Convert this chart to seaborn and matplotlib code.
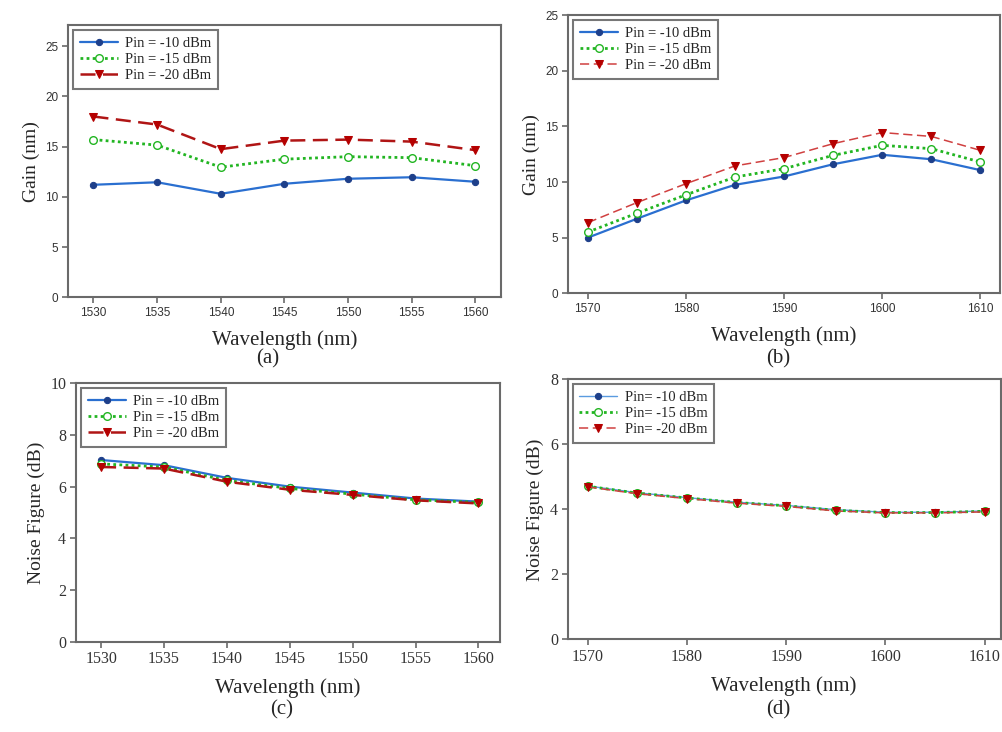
"""
Gain and noise figure vs. wavelength, four panels (a)-(d).
"""

import numpy as np
import pandas as pd
import matplotlib
matplotlib.use("Agg")
import matplotlib.pyplot as plt
import seaborn as sns

# ── Data ──────────────────────────────────────────────────────────────────
wl_c = [1530, 1535, 1540, 1545, 1550, 1555, 1560]
wl_l = [1570, 1575, 1580, 1585, 1590, 1595, 1600, 1605, 1610]

gain_c_10 = [11.2, 11.45, 10.3, 11.3, 11.8, 11.95, 11.5]
gain_c_15 = [15.7, 15.15, 12.95, 13.75, 14.0, 13.9, 13.1]
gain_c_20 = [18.0, 17.2, 14.75, 15.6, 15.7, 15.5, 14.65]

gain_l_10 = [5.0, 6.7, 8.35, 9.75, 10.5, 11.6, 12.45, 12.05, 11.07]
gain_l_15 = [5.5, 7.2, 8.85, 10.45, 11.2, 12.4, 13.3, 13.0, 11.8]
gain_l_20 = [6.35, 8.15, 9.85, 11.45, 12.2, 13.45, 14.45, 14.1, 12.85]

nf_c_10 = [7.03, 6.83, 6.34, 6.0, 5.77, 5.54, 5.42]
nf_c_15 = [6.88, 6.76, 6.24, 5.93, 5.71, 5.49, 5.39]
nf_c_20 = [6.76, 6.70, 6.19, 5.88, 5.68, 5.47, 5.35]

nf_l_10 = [4.72, 4.51, 4.36, 4.22, 4.12, 3.99, 3.91, 3.91, 3.95]
nf_l_15 = [4.71, 4.50, 4.35, 4.21, 4.11, 3.97, 3.90, 3.90, 3.94]
nf_l_20 = [4.69, 4.48, 4.33, 4.19, 4.09, 3.95, 3.89, 3.89, 3.92]

labels_ab = ["Pin = -10 dBm", "Pin = -15 dBm", "Pin = -20 dBm"]
labels_c = ["Pin = -10 dBm", "Pin = -15 dBm", "Pin = -20 dBm"]
labels_d = ["Pin= -10 dBm", "Pin= -15 dBm", "Pin= -20 dBm"]

# ── Style ─────────────────────────────────────────────────────────────────
sns.set_style("ticks")
plt.rcParams["font.family"] = ["Liberation Serif", "DejaVu Serif"]

SPINE = "#6a6a6a"
BLUE, BLUE_MK = "#2a6fd0", "#1d3f8a"
GREEN = "#22b522"
RED, RED_MK = "#b01515", "#b50000"

fig = plt.figure(figsize=(10.02, 7.32), dpi=100)
ax_a = fig.add_axes([0.0679, 0.594, 0.432, 0.3716])
ax_b = fig.add_axes([0.567, 0.5993, 0.431, 0.380])
ax_c = fig.add_axes([0.0758, 0.1234, 0.423, 0.353])
ax_d = fig.add_axes([0.5666, 0.1266, 0.432, 0.3552])


def draw(ax, wl, series, labels, light_red=False, light_blue=False):
    s10, s15, s20 = series
    df = pd.DataFrame({"wl": wl, "s10": s10, "s15": s15, "s20": s20})
    sns.lineplot(data=df, x="wl", y="s10", ax=ax, label=labels[0],
                 color="#5a9be0" if light_blue else BLUE,
                 lw=1.0 if light_blue else 1.6,
                 marker="o", ms=4.5, mfc=BLUE_MK, markeredgecolor=BLUE_MK)
    sns.lineplot(data=df, x="wl", y="s15", ax=ax, label=labels[1],
                 color=GREEN, lw=2.0, linestyle=(0, (1, 1.2)),
                 marker="o", ms=5.5, mfc="white", markeredgecolor=GREEN,
                 markeredgewidth=1.0)
    sns.lineplot(data=df, x="wl", y="s20", ax=ax, label=labels[2],
                 color="#d04040" if light_red else RED,
                 lw=1.1 if light_red else 1.8, linestyle=(0, (6, 3)),
                 marker="v", ms=5.5, mfc=RED_MK, markeredgecolor=RED_MK)


def style(ax, xlim, ylim, xticks, yticks, tick_font, tick_size, ylabel):
    ax.set_xlim(*xlim)
    ax.set_ylim(*ylim)
    ax.set_xticks(xticks)
    ax.set_yticks(yticks)
    for sp in ax.spines.values():
        sp.set_visible(True)
        sp.set_color(SPINE)
        sp.set_linewidth(1.5)
    ax.tick_params(direction="out", length=4, width=1.2, color=SPINE,
                   labelsize=tick_size, pad=3)
    for t in ax.get_xticklabels() + ax.get_yticklabels():
        t.set_fontfamily(tick_font)
        t.set_color("#333333")
    ax.set_xlabel("Wavelength (nm)", fontsize=15, labelpad=8)
    ax.set_ylabel(ylabel, fontsize=14, labelpad=4)
    leg = ax.legend(loc="upper left", fontsize=10.5, frameon=True, fancybox=False,
                    handlelength=2.6, handletextpad=0.5, labelspacing=0.2,
                    borderpad=0.45, borderaxespad=0.35)
    leg.get_frame().set_edgecolor("#555555")
    leg.get_frame().set_linewidth(1.5)


draw(ax_a, wl_c, (gain_c_10, gain_c_15, gain_c_20), labels_ab)
style(ax_a, (1528, 1562), (0, 27.1), wl_c, [0, 5, 10, 15, 20, 25],
      ["Liberation Sans"], 8.5, "Gain (nm)")

draw(ax_b, wl_l, (gain_l_10, gain_l_15, gain_l_20), labels_ab, light_red=True)
style(ax_b, (1568, 1612), (0, 25), [1570, 1580, 1590, 1600, 1610],
      [0, 5, 10, 15, 20, 25], ["Liberation Sans"], 8.5, "Gain (nm)")

draw(ax_c, wl_c, (nf_c_10, nf_c_15, nf_c_20), labels_c)
style(ax_c, (1528, 1561.7), (0, 10), wl_c, [0, 2, 4, 6, 8, 10],
      ["Liberation Serif"], 11.5, "Noise Figure (dB)")

draw(ax_d, wl_l, (nf_l_10, nf_l_15, nf_l_20), labels_d, light_red=True, light_blue=True)
style(ax_d, (1568, 1611.6), (0, 8), [1570, 1580, 1590, 1600, 1610],
      [0, 2, 4, 6, 8], ["Liberation Serif"], 11.5, "Noise Figure (dB)")

for txt, x, y in [("(a)", 0.267, 0.497), ("(b)", 0.777, 0.497),
                  ("(c)", 0.281, 0.017), ("(d)", 0.777, 0.017)]:
    fig.text(x, y, txt, fontsize=15, ha="center", va="bottom")

fig.savefig("out.png", dpi=100)
plt.close(fig)
